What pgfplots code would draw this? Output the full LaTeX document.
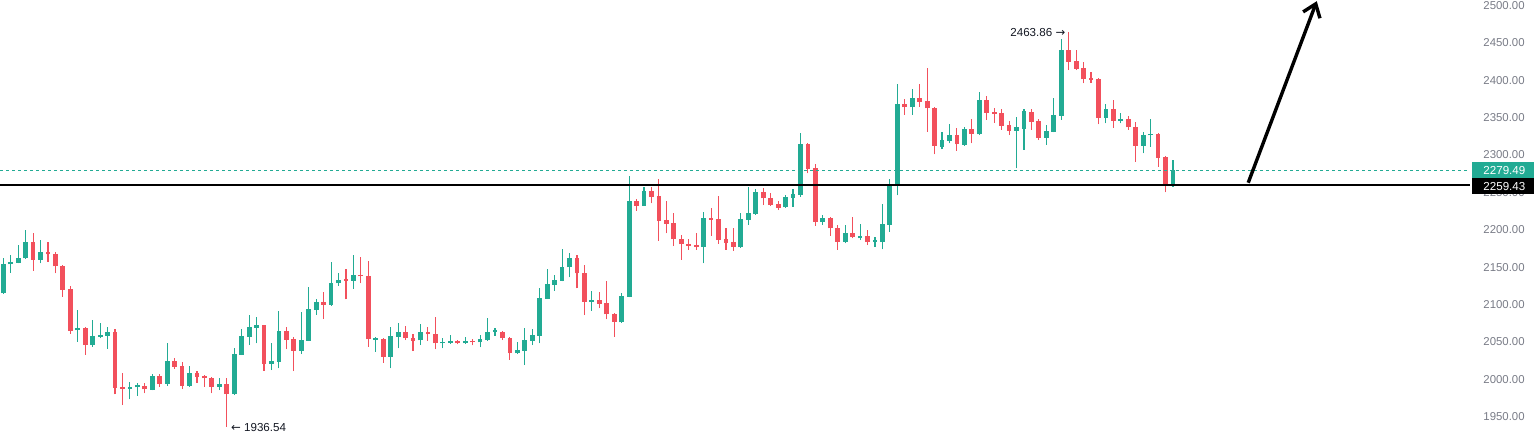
\documentclass[border=0pt]{standalone}
\usepackage{pgfplots}
\pgfplotsset{compat=1.18}
\usepackage{pgfplotstable}
\usepackage{fontspec}
\setmainfont{Liberation Sans}
\newfontfamily\dejavu{DejaVu Sans}
\usetikzlibrary{arrows.meta}
\definecolor{tvgreen}{RGB}{34,171,148}
\definecolor{tvred}{RGB}{242,80,92}
\definecolor{tvgray}{RGB}{120,123,134}
\definecolor{tvtext}{RGB}{19,23,34}

% up candles: index open high low close
\pgfplotstableread{
i o h l c
0 2114.9 2161.7 2114.1 2154.2
1 2153.7 2166.6 2142.6 2156.8
2 2156.0 2179.1 2155.1 2162.2
3 2161.7 2199.2 2161.0 2183.6
5 2160.0 2186.3 2155.1 2170.2
10 2065.5 2092.7 2050.3 2068.6
12 2045.9 2079.3 2043.6 2057.9
13 2056.6 2074.8 2054.8 2059.2
14 2058.3 2070.4 2041.0 2063.2
17 1987.5 1996.8 1973.2 1990.1
18 1989.3 1994.6 1977.7 1991.9
20 1986.1 2007.1 1985.2 2004.9
22 1994.2 2048.1 1991.5 2024.5
25 1991.5 2017.8 1990.1 2008.4
29 1990.1 2001.2 1985.6 1993.7
31 1980.0 2041.3 1978.9 2033.8
32 2032.9 2066.8 2032.4 2057.4
33 2056.9 2085.9 2045.8 2069.4
34 2069.0 2082.8 2048.0 2072.1
36 2020.8 2048.0 2012.4 2024.4
37 2023.5 2091.7 2014.6 2064.5
40 2038.2 2090.4 2033.8 2052.5
41 2051.6 2123.4 2051.0 2093.9
42 2092.6 2107.8 2086.4 2103.3
44 2099.7 2156.8 2098.4 2129.2
45 2128.3 2141.6 2125.1 2132.7
47 2131.8 2166.1 2121.1 2139.8
50 2052.9 2056.1 2036.9 2055.2
52 2030.2 2070.3 2014.6 2057.9
53 2057.0 2074.8 2041.4 2063.2
56 2052.1 2073.5 2045.8 2063.2
59 2048.1 2054.7 2041.4 2050.3
60 2049.0 2059.2 2047.2 2051.6
62 2048.1 2056.1 2047.2 2051.2
64 2049.4 2059.2 2042.7 2053.9
65 2052.5 2082.4 2051.6 2063.2
66 2063.2 2069.0 2057.9 2065.5
69 2034.7 2050.3 2033.8 2039.1
70 2038.3 2068.1 2019.1 2052.5
71 2051.6 2067.7 2045.8 2058.8
72 2057.9 2121.6 2048.1 2108.2
73 2107.8 2147.0 2107.3 2127.8
74 2126.5 2139.0 2118.5 2132.7
75 2131.9 2173.7 2131.0 2150.1
76 2149.7 2168.4 2136.3 2162.2
79 2103.8 2118.5 2091.7 2106.0
83 2076.1 2115.8 2075.6 2111.4
84 2110.5 2271.8 2109.6 2238.4
86 2232.1 2257.5 2231.5 2251.8
94 2177.3 2223.7 2155.0 2215.6
99 2176.4 2222.8 2175.8 2214.8
100 2213.0 2257.5 2206.3 2222.3
101 2221.0 2254.0 2219.7 2250.9
105 2229.9 2246.4 2229.5 2244.2
106 2242.8 2254.9 2230.8 2247.7
107 2246.4 2328.8 2244.2 2314.6
110 2210.3 2219.6 2206.3 2215.6
113 2184.0 2206.3 2181.8 2195.1
115 2188.5 2207.2 2186.2 2191.6
117 2183.5 2190.7 2177.3 2186.2
118 2183.5 2234.4 2173.7 2207.6
119 2206.7 2268.2 2197.4 2258.9
120 2258.4 2394.8 2245.9 2368.5
122 2363.6 2388.1 2353.4 2376.5
126 2311.0 2331.1 2307.5 2319.9
127 2319.0 2340.9 2315.5 2326.6
129 2313.3 2337.8 2311.9 2334.7
131 2327.5 2384.1 2326.6 2373.4
136 2332.4 2351.1 2282.1 2336.9
137 2335.1 2361.0 2306.6 2358.7
140 2322.6 2340.0 2313.3 2331.5
141 2331.1 2376.1 2330.2 2352.9
142 2352.5 2455.0 2346.7 2440.3
148 2349.4 2368.1 2342.2 2361.0
150 2345.8 2356.5 2342.2 2348.5
153 2311.9 2331.1 2302.1 2327.1
154 2326.2 2348.0 2311.0 2328.0
157 2258.4 2293.2 2257.6 2279.49
}\up

% down candles: index open high low close
\pgfplotstableread{
i o h l c
4 2183.6 2196.1 2145.3 2160.0
6 2170.2 2184.0 2157.3 2167.1
7 2167.5 2169.8 2141.7 2151.0
8 2151.5 2152.5 2110.5 2119.8
9 2120.7 2124.8 2060.6 2065.0
11 2068.6 2069.5 2032.5 2045.9
15 2063.2 2067.7 1979.9 1988.8
16 1989.7 2008.0 1965.6 1987.5
19 1991.5 1994.6 1981.2 1986.6
21 2004.4 2007.1 1990.1 1993.7
23 2024.5 2028.5 2014.2 2016.9
24 2018.2 2023.6 1987.0 1991.5
26 2008.4 2011.5 1995.5 2003.5
27 2004.4 2005.7 1990.1 2001.2
28 2002.1 2003.5 1981.2 1990.1
30 1993.7 2001.2 1936.54 1980.3
35 2072.1 2073.0 2011.5 2020.8
38 2064.5 2069.4 2040.0 2052.9
39 2053.4 2056.1 2011.0 2038.2
43 2103.3 2116.7 2080.6 2099.7
46 2133.6 2147.9 2106.9 2131.8
48 2139.8 2163.9 2128.3 2137.6
49 2138.5 2157.7 2043.6 2053.4
51 2053.8 2054.7 2022.2 2030.2
54 2063.2 2071.7 2052.5 2054.7
55 2055.6 2060.5 2037.8 2051.6
57 2063.2 2069.5 2051.2 2060.1
58 2060.5 2082.8 2040.0 2048.1
61 2051.2 2052.1 2046.7 2048.1
63 2051.2 2054.3 2045.4 2049.4
67 2063.2 2064.0 2052.5 2054.7
68 2055.2 2056.0 2025.8 2034.7
77 2162.2 2166.2 2121.4 2141.7
78 2141.7 2152.8 2085.9 2103.8
80 2105.6 2117.1 2094.9 2100.7
81 2102.0 2131.9 2080.2 2086.8
82 2087.3 2088.0 2057.0 2077.0
85 2238.4 2240.6 2225.5 2232.1
87 2251.8 2257.5 2235.3 2244.2
88 2245.1 2268.2 2185.3 2211.6
89 2213.0 2237.9 2195.1 2208.1
90 2209.4 2221.9 2178.2 2187.1
91 2187.6 2192.9 2159.5 2180.4
92 2180.9 2187.1 2172.9 2178.7
93 2179.5 2195.6 2172.9 2177.3
95 2215.6 2229.0 2191.6 2213.4
96 2214.3 2245.5 2180.9 2186.2
97 2187.6 2202.3 2172.9 2182.7
98 2183.6 2201.8 2172.0 2177.3
102 2250.9 2255.3 2233.0 2241.9
103 2242.8 2249.5 2232.1 2233.0
104 2234.4 2238.8 2226.3 2229.5
108 2314.6 2316.4 2275.4 2280.7
109 2282.5 2287.4 2205.4 2210.3
111 2215.6 2216.5 2191.6 2201.8
112 2202.3 2206.3 2172.9 2184.0
114 2195.6 2216.5 2188.5 2189.8
116 2191.6 2199.6 2179.5 2183.5
121 2368.5 2374.3 2353.4 2363.6
123 2376.5 2394.8 2364.5 2371.2
124 2372.1 2415.8 2331.1 2362.3
125 2363.2 2364.0 2300.8 2311.9
128 2326.6 2335.5 2305.7 2314.1
130 2334.7 2348.0 2315.5 2328.4
132 2373.4 2378.8 2346.7 2356.5
133 2357.4 2362.3 2343.1 2355.2
134 2356.0 2361.4 2333.3 2339.1
135 2339.6 2345.8 2326.6 2332.4
138 2357.4 2361.0 2333.3 2344.5
139 2345.4 2348.5 2319.9 2322.6
143 2440.3 2463.86 2413.5 2424.7
144 2425.6 2440.3 2413.5 2415.3
145 2416.2 2423.8 2395.7 2401.1
146 2402.8 2410.9 2396.6 2400.2
147 2401.5 2402.4 2340.9 2349.4
149 2361.0 2373.4 2336.4 2345.8
151 2348.5 2352.0 2333.3 2336.9
152 2337.3 2344.5 2291.0 2311.9
155 2328.0 2328.9 2284.3 2296.3
156 2297.7 2298.5 2250.0 2258.4
}\dn

\pgfplotsset{candle/.style={only marks, forget plot, mark=*, mark size=0pt,
  mark options={draw opacity=0, fill opacity=0},
  error bars/.cd, y dir=plus, y explicit, error mark=none}}

\begin{document}
\begin{tikzpicture}
\begin{axis}[
  at={(0,0)}, anchor=south west,
  width=735pt, height=223pt, scale only axis,
  xmin=-0.44, xmax=196.87, ymin=1910.8, ymax=2507.1,
  clip=false,
  axis line style={draw=none},
  major tick length=0pt,
  xtick=\empty,
  ytick={1950,2000,2050,2100,2150,2200,2250,2300,2350,2400,2450,2500},
  yticklabels={1950.00,2000.00,2050.00,2100.00,2150.00,2200.00,2250.00,2300.00,2350.00,2400.00,2450.00,2500.00},
  yticklabel pos=right,
  y tick label style={anchor=west, inner sep=0pt, xshift=6.5pt, font=\fontsize{5.7}{6.8}\selectfont, text=tvgray},
]
% wicks
\addplot[candle, error bar style={line width=0.55pt, draw=tvgreen}]
  table[x=i, y=l, y error plus expr={\thisrow{h}-\thisrow{l}}] {\up};
\addplot[candle, error bar style={line width=0.55pt, draw=tvred}]
  table[x=i, y=l, y error plus expr={\thisrow{h}-\thisrow{l}}] {\dn};
% bodies
\addplot[candle, error bar style={line width=2.4pt, draw=tvgreen}]
  table[x=i, y=o, y error plus expr={\thisrow{c}-\thisrow{o}}] {\up};
\addplot[candle, error bar style={line width=2.4pt, draw=tvred}]
  table[x=i, y=c, y error plus expr={\thisrow{o}-\thisrow{c}}] {\dn};
% price lines
\addplot[tvgreen, line width=0.5pt, dash pattern=on 1.5pt off 1.5pt, forget plot] coordinates {(-0.44,2279.49) (196.87,2279.49)};
\addplot[black, line width=1pt, forget plot] coordinates {(-0.44,2259.43) (196.87,2259.43)};
% arrow
\draw[line width=1.7pt, -{Straight Barb[length=6pt,width=9pt]}] (axis cs:167.1,2262.8) -- (axis cs:176.3,2505.5);
% high / low annotations
\node[anchor=east, inner sep=0pt, xshift=-1.5pt, text=tvtext, font=\fontsize{5.8}{6.8}\selectfont] at (axis cs:143,2463.86) {2463.86 {\dejavu →}};
\node[anchor=west, inner sep=0pt, xshift=2pt, text=tvtext, font=\fontsize{5.8}{6.8}\selectfont] at (axis cs:30,1935.5) {{\dejavu ←} 1936.54};
\coordinate (gl) at (axis cs:196.87,2279.49);
\coordinate (bl) at (axis cs:196.87,2259.43);
\end{axis}
\node[anchor=west, fill=tvgreen, text=white, inner xsep=5.5pt, inner ysep=0pt, minimum height=8.5pt, font=\fontsize{5.8}{6.8}\selectfont] at ([xshift=1pt]gl) {2279.49};
\node[anchor=west, fill=black, text=white, inner xsep=5.5pt, inner ysep=0pt, minimum height=8pt, font=\fontsize{5.8}{6.8}\selectfont] at ([xshift=1pt,yshift=-0.4pt]bl) {2259.43};
\pgfresetboundingbox
\path[use as bounding box] (0,0) rectangle (767pt,223pt);
\end{tikzpicture}
\end{document}
